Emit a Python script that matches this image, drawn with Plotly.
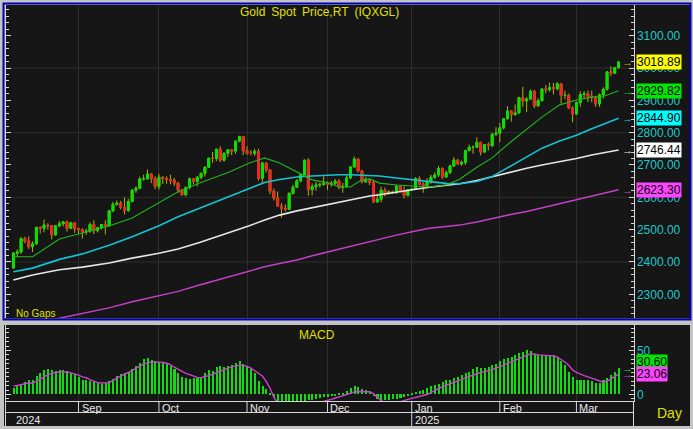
import plotly.graph_objects as go
import pandas as pd

W, H = 693, 429


def px(x):
    return x / W


def py(y):
    return 1 - y / H


# ---------------- data ----------------
dates = pd.bdate_range("2024-08-08", "2025-03-18")  # trading days shown

open_ = [2382, 2427, 2431, 2472, 2465, 2447, 2456, 2507, 2504, 2514,
         2512, 2484, 2512, 2518, 2524, 2504, 2521, 2503, 2500, 2493,
         2495, 2516, 2497, 2506, 2516, 2512, 2558, 2578, 2582, 2569,
         2559, 2587, 2622, 2628, 2657, 2657, 2672, 2658, 2634, 2662,
         2658, 2656, 2653, 2644, 2622, 2608, 2630, 2657, 2649, 2662,
         2674, 2693, 2721, 2720, 2749, 2715, 2736, 2747, 2743, 2774,
         2788, 2744, 2736, 2736, 2742, 2659, 2706, 2685, 2619, 2598,
         2573, 2565, 2563, 2612, 2631, 2651, 2670, 2715, 2624, 2633,
         2638, 2640, 2643, 2640, 2643, 2650, 2631, 2633, 2660, 2694,
         2718, 2681, 2648, 2652, 2646, 2586, 2594, 2622, 2612, 2617,
         2614, 2634, 2621, 2606, 2624, 2625, 2658, 2640, 2636, 2648,
         2662, 2669, 2689, 2663, 2677, 2697, 2715, 2703, 2708, 2745,
         2755, 2755, 2770, 2740, 2763, 2760, 2795, 2798, 2815, 2843,
         2867, 2856, 2861, 2908, 2898, 2904, 2928, 2883, 2899, 2935,
         2933, 2939, 2936, 2951, 2915, 2916, 2876, 2858, 2893, 2918,
         2920, 2911, 2910, 2889, 2917, 2934, 2988, 2984, 3001]
high = [2431, 2439, 2477, 2478, 2479, 2464, 2509, 2510, 2531, 2520,
        2514, 2513, 2527, 2526, 2528, 2524, 2523, 2506, 2504, 2503,
        2523, 2529, 2508, 2518, 2529, 2560, 2586, 2590, 2589, 2600,
        2595, 2625, 2634, 2664, 2670, 2686, 2674, 2665, 2673, 2665,
        2665, 2670, 2660, 2648, 2625, 2634, 2661, 2660, 2666, 2677,
        2696, 2722, 2740, 2749, 2758, 2739, 2749, 2749, 2774, 2790,
        2790, 2758, 2746, 2750, 2750, 2710, 2709, 2686, 2627, 2618,
        2582, 2578, 2616, 2639, 2656, 2675, 2716, 2721, 2643, 2648,
        2645, 2665, 2649, 2651, 2657, 2656, 2645, 2668, 2697, 2726,
        2721, 2685, 2664, 2657, 2651, 2611, 2633, 2630, 2622, 2621,
        2639, 2638, 2634, 2626, 2630, 2662, 2665, 2647, 2659, 2670,
        2677, 2697, 2693, 2683, 2701, 2724, 2718, 2714, 2746, 2763,
        2760, 2786, 2772, 2765, 2770, 2800, 2817, 2830, 2845, 2882,
        2870, 2887, 2911, 2942, 2910, 2934, 2932, 2906, 2938, 2947,
        2955, 2954, 2956, 2952, 2930, 2921, 2882, 2896, 2928, 2929,
        2930, 2930, 2914, 2921, 2940, 2990, 3005, 3002, 3020]
low = [2378, 2415, 2425, 2458, 2440, 2431, 2454, 2488, 2492, 2500,
       2470, 2481, 2507, 2510, 2494, 2502, 2490, 2488, 2472, 2484,
       2490, 2486, 2491, 2500, 2485, 2510, 2554, 2574, 2563, 2547,
       2555, 2584, 2614, 2625, 2652, 2655, 2644, 2625, 2624, 2641,
       2642, 2640, 2635, 2614, 2605, 2603, 2625, 2640, 2634, 2656,
       2664, 2691, 2707, 2712, 2709, 2710, 2725, 2730, 2735, 2770,
       2731, 2732, 2730, 2728, 2652, 2643, 2677, 2610, 2590, 2572,
       2537, 2556, 2562, 2608, 2630, 2646, 2670, 2605, 2606, 2620,
       2630, 2636, 2623, 2633, 2636, 2625, 2614, 2631, 2656, 2692,
       2678, 2643, 2645, 2638, 2582, 2583, 2584, 2603, 2608, 2611,
       2611, 2615, 2597, 2603, 2620, 2623, 2637, 2614, 2629, 2642,
       2657, 2663, 2657, 2660, 2671, 2694, 2700, 2697, 2700, 2742,
       2735, 2752, 2730, 2738, 2745, 2755, 2790, 2771, 2810, 2841,
       2834, 2852, 2860, 2880, 2864, 2902, 2876, 2880, 2897, 2922,
       2927, 2918, 2931, 2890, 2903, 2873, 2832, 2856, 2880, 2905,
       2895, 2894, 2880, 2880, 2905, 2930, 2975, 2982, 2998]
close = [2427, 2431, 2472, 2465, 2447, 2456, 2507, 2504, 2514, 2512,
         2484, 2512, 2518, 2524, 2504, 2521, 2503, 2500, 2493, 2495,
         2516, 2497, 2506, 2516, 2512, 2558, 2578, 2582, 2569, 2559,
         2587, 2622, 2628, 2657, 2657, 2672, 2658, 2634, 2662, 2658,
         2656, 2653, 2644, 2622, 2608, 2630, 2657, 2649, 2662, 2674,
         2693, 2721, 2720, 2749, 2715, 2736, 2747, 2743, 2774, 2788,
         2744, 2736, 2736, 2742, 2659, 2706, 2685, 2619, 2598, 2573,
         2565, 2563, 2612, 2631, 2651, 2670, 2715, 2624, 2633, 2638,
         2640, 2643, 2640, 2643, 2650, 2631, 2633, 2660, 2694, 2718,
         2681, 2648, 2652, 2646, 2586, 2594, 2622, 2612, 2617, 2614,
         2634, 2621, 2606, 2624, 2625, 2658, 2640, 2636, 2648, 2662,
         2669, 2689, 2663, 2677, 2697, 2715, 2703, 2708, 2745, 2755,
         2755, 2770, 2740, 2763, 2760, 2795, 2798, 2815, 2843, 2867,
         2856, 2861, 2908, 2898, 2904, 2928, 2883, 2899, 2935, 2933,
         2939, 2936, 2951, 2915, 2916, 2876, 2858, 2893, 2918, 2920,
         2911, 2910, 2889, 2917, 2934, 2988, 2984, 3001, 3018.89]

# moving averages at these bar positions
ma_pos = [0, 5, 12, 18, 25, 31, 38, 43, 48.6, 56.4, 61.6, 65.6, 69.5, 74, 78,
          82.5, 85, 88, 91, 93, 95.6, 100, 105, 108.6, 113, 116.5, 121, 125,
          129.5, 134, 138, 142.6, 147, 151, 154, 158]
ma_green = [2416, 2416, 2471, 2490, 2511, 2536, 2582, 2617, 2644, 2678, 2706,
            2722, 2706, 2678, 2654, 2644, 2632, 2632, 2654, 2657, 2644, 2638,
            2635, 2632, 2638, 2656, 2693, 2722, 2768, 2811, 2848, 2886, 2901,
            2910, 2912, 2929.82]
ma_cyan = [2370, 2381, 2408, 2425, 2452, 2478, 2512, 2540, 2566, 2602, 2628,
           2646, 2655, 2663, 2666, 2669, 2670, 2670, 2669, 2668, 2666, 2660,
           2654, 2648, 2643, 2642, 2649, 2664, 2694, 2726, 2752, 2774, 2792,
           2812, 2826, 2844.90]
ma_white = [2344, 2360, 2376, 2384, 2397, 2412, 2427, 2440, 2460, 2490, 2512,
            2530, 2545, 2558, 2568, 2580, 2586, 2593, 2600, 2604, 2608, 2617,
            2625, 2631, 2637, 2642, 2652, 2664, 2677, 2690, 2700, 2710, 2720,
            2731, 2738, 2746.44]
ma_magenta = [2196, 2207, 2226, 2240, 2258, 2277, 2295, 2309, 2329, 2354, 2370,
              2385, 2395, 2406, 2419, 2432, 2440, 2449, 2458, 2464, 2471, 2483,
              2496, 2504, 2510, 2514, 2524, 2535, 2546, 2556, 2567, 2581, 2592,
              2602, 2610, 2623.30]

macd = [7.5, 9.5, 12, 14, 16, 17, 21, 24, 28, 29.5,
        28, 26.5, 27.5, 28, 27, 25, 23, 20, 17, 16,
        15, 14, 13, 12.5, 13, 15, 18, 21, 23, 24.5,
        26, 29, 32, 36, 40, 42, 39, 38, 37, 36.5,
        35, 32, 29, 25, 20, 19, 18, 18.5, 19, 20,
        24, 28, 27, 31, 32, 31, 32, 33, 36, 38,
        35, 32, 29, 24, 15, 10, 6, 1, -3, -7,
        -11, -14, -15, -14, -12, -10, -8, -6, -6, -5,
        -4, -3, -2.5, -2, -1, 1, 2, 4, 7, 9.5,
        9, 6, 5, 3.5, -1, -5, -6, -6, -6, -5,
        -5, -4, -3, -2, 1, 3, 4, 5, 7, 10,
        11, 12, 14, 16, 17, 19, 20, 22, 24, 26,
        29, 31, 30, 30, 31, 33, 35, 38, 40, 41,
        43, 45, 47, 48, 51, 49, 46, 45, 45, 45,
        44, 44, 42, 38, 33, 26, 20, 17, 17, 16.5,
        16, 15, 13, 13, 16, 19, 22, 26, 30.60]
signal = [9.5, 10, 11, 12.5, 13, 13, 15, 18, 20, 22.5,
          24, 25, 25.5, 25.5, 25.5, 24.5, 23.5, 22, 20, 19,
          17, 15, 13.5, 13, 13, 13.5, 16, 19, 21, 23,
          25, 27, 30, 32.5, 34.5, 36, 37, 37, 37, 36.5,
          35.5, 34, 31, 28.5, 26, 24, 22.5, 21, 19.5, 19,
          20, 21.5, 23, 24.5, 26.5, 28, 30, 31.5, 32.5, 33,
          33, 32, 30, 27, 24, 21, 15, 7, -3, -10,
          -14, -16, -17, -17, -16, -15, -14, -13, -12, -10,
          -9, -8, -7, -5.5, -4, -3, -1.5, 0, 1.5, 3,
          3.4, 3.5, 3.4, 3.2, 1, -3, -7, -9, -10, -10,
          -9.5, -8.5, -7, -5.5, -4.5, -3.5, -2, -1, 0, 2,
          4.5, 7, 9, 10.5, 12, 13.5, 15.5, 17, 19, 20.5,
          22, 24, 25, 26, 27, 28, 30, 31.5, 33, 35,
          37, 39, 40.5, 42.5, 44.5, 46, 46, 45, 45, 44.5,
          44, 44, 42.5, 40, 37, 33, 28, 25, 23, 21.5,
          20, 18.5, 17, 15.5, 14, 15, 17.5, 20.5, 23.06]

year_labels = ["2024", "2025"]
price_ticks_every = 100
grid_levels = [2400, 2600, 2800, 3000]

# ---------------- derived ----------------
n = len(close)
pos = list(range(n))
month_pos = [i for i in range(1, n) if dates[i].month != dates[i - 1].month]
month_lbl = [dates[i].strftime("%b") for i in month_pos]
year_pos = [i for i in month_pos if dates[i].year != dates[i - 1].year]
body_hi = [max(o, c) for o, c in zip(open_, close)]
body_lo = [min(o, c) for o, c in zip(open_, close)]

FONT = "Liberation Sans, Arial, sans-serif"
BG = "#161616"
GRID = "#2e2e2e"
AXC = "#d8d8d8"
TICKC = "#1ec8cc"
YEL = "#e0e000"
WICK = "#b4b000"
UP = "#00e400"
DN = "#f02424"
C_GREEN = "#22b422"
C_CYAN = "#14c4d4"
C_WHITE = "#e6e6e6"
C_MAG = "#c440c4"

fig = go.Figure()

fig.add_trace(go.Candlestick(
    x=pos, open=open_, high=high, low=low, close=close,
    increasing=dict(line=dict(color=WICK, width=1), fillcolor=WICK),
    decreasing=dict(line=dict(color=WICK, width=1), fillcolor=WICK),
    xaxis="x", yaxis="y", hoverinfo="skip"))
fig.add_trace(go.Candlestick(
    x=pos, open=open_, high=body_hi, low=body_lo, close=close,
    increasing=dict(line=dict(color=UP, width=1), fillcolor=UP),
    decreasing=dict(line=dict(color=DN, width=1), fillcolor=DN),
    xaxis="x", yaxis="y", hoverinfo="skip"))

for vals, col, wd in [(ma_magenta, C_MAG, 1.5), (ma_white, C_WHITE, 1.6),
                      (ma_cyan, C_CYAN, 1.6), (ma_green, C_GREEN, 1.1)]:
    fig.add_trace(go.Scatter(x=ma_pos, y=vals, mode="lines",
                             line=dict(color=col, width=wd),
                             xaxis="x", yaxis="y", hoverinfo="skip"))

fig.add_trace(go.Bar(x=pos, y=macd, width=0.4, marker=dict(color="#10dc10", line=dict(width=0)),
                     xaxis="x2", yaxis="y2", hoverinfo="skip"))
fig.add_trace(go.Scatter(x=pos, y=signal, mode="lines", line=dict(color="#d040d0", width=1.4),
                         xaxis="x2", yaxis="y2", hoverinfo="skip"))

# ---------------- axes ----------------
x_lo = -2.06
x_hi = 161.9
xdom = [px(5.5), px(633.5)]

common_x = dict(domain=xdom, range=[x_lo, x_hi], tickmode="array", tickvals=month_pos,
                showticklabels=False, ticks="", showgrid=True, gridcolor=GRID, gridwidth=1,
                zeroline=False, automargin=False, fixedrange=True)

fig.update_layout(
    width=W, height=H,
    template="none",
    margin=dict(l=0, r=0, t=0, b=0),
    paper_bgcolor="#c4c4c4",
    plot_bgcolor=BG,
    showlegend=False,
    boxmode="overlay",
    bargap=0,
    font=dict(family=FONT, size=12, color=YEL),
    xaxis=dict(**common_x, anchor="y", showline=False, rangeslider=dict(visible=False)),
    xaxis2=dict(**common_x, anchor="y2", matches="x", showline=True, linecolor=AXC, linewidth=1,
                rangeslider=dict(visible=False)),
    yaxis=dict(domain=[py(318), py(5)], range=[2226.7, 3194.9], side="right", anchor="x",
               tickmode="linear", tick0=0, dtick=price_ticks_every, tickformat=".2f",
               ticks="inside", ticklen=5, tickcolor=AXC, tickwidth=1,
               minor=dict(dtick=20, ticks="inside", ticklen=3, tickcolor=AXC, showgrid=False),
               showgrid=False, zeroline=False, showline=True, linecolor=AXC, linewidth=1,
               mirror="ticks", tickfont=dict(family=FONT, size=12, color=TICKC),
               automargin=False, fixedrange=True),
    yaxis2=dict(domain=[py(401), py(325)], range=[-7.4, 79], side="right", anchor="x2",
                tickmode="linear", tick0=0, dtick=50,
                ticks="inside", ticklen=5, tickcolor=AXC, tickwidth=1,
                minor=dict(dtick=5, ticks="inside", ticklen=3, tickcolor=AXC, showgrid=False),
                showgrid=False, zeroline=False, showline=True, linecolor=AXC, linewidth=1,
                mirror="ticks", tickfont=dict(family=FONT, size=12, color=TICKC),
                automargin=False, fixedrange=True),
)

# ---------------- frame shapes ----------------
shapes = []
shapes.append(dict(type="rect", xref="paper", yref="paper", x0=px(5), x1=px(690),
                   y0=py(318.5), y1=py(5), fillcolor=BG, line=dict(width=0), layer="below"))
shapes.append(dict(type="rect", xref="paper", yref="paper", x0=px(4), x1=px(690),
                   y0=py(426), y1=py(325), fillcolor=BG, line=dict(width=0), layer="below"))
shapes.append(dict(type="rect", xref="paper", yref="paper", x0=px(3.5), x1=px(690.5),
                   y0=py(319.5), y1=py(3.5), line=dict(color="#0000b4", width=2),
                   fillcolor="rgba(0,0,0,0)", layer="above"))
for g in grid_levels:
    shapes.append(dict(type="line", xref="x domain", yref="y", x0=0, x1=1, y0=g, y1=g,
                       line=dict(color=GRID, width=1), layer="below"))
# date header rows
shapes.append(dict(type="line", xref="paper", yref="paper", x0=px(5.5), x1=px(633.5),
                   y0=py(412.5), y1=py(412.5), line=dict(color=AXC, width=1)))
shapes.append(dict(type="line", xref="paper", yref="paper", x0=px(5.5), x1=px(5.5),
                   y0=py(426), y1=py(401), line=dict(color=AXC, width=1)))
shapes.append(dict(type="line", xref="paper", yref="paper", x0=px(633.5), x1=px(633.5),
                   y0=py(426), y1=py(401), line=dict(color=AXC, width=1)))
for i in month_pos:
    shapes.append(dict(type="line", xref="x2", yref="paper", x0=i, x1=i,
                       y0=py(412.5), y1=py(401.5), line=dict(color=AXC, width=1)))
for i in year_pos:
    shapes.append(dict(type="line", xref="x2", yref="paper", x0=i, x1=i,
                       y0=py(426), y1=py(412.5), line=dict(color=AXC, width=1)))
fig.update_layout(shapes=shapes)

# ---------------- text ----------------
ann = []
ann.append(dict(text="Gold\u2002Spot\u2002Price,RT\u2002(IQXGL)", xref="paper", yref="paper",
                x=px(319), y=py(12), xanchor="center", yanchor="middle", showarrow=False,
                font=dict(family=FONT, size=12, color=YEL)))
ann.append(dict(text="No Gaps", xref="paper", yref="paper", x=px(14), y=py(313),
                xanchor="left", yanchor="middle", showarrow=False,
                font=dict(family=FONT, size=10, color=YEL)))
ann.append(dict(text="MACD", xref="paper", yref="paper", x=px(317), y=py(335),
                xanchor="center", yanchor="middle", showarrow=False,
                font=dict(family=FONT, size=12, color=YEL)))
ann.append(dict(text="Day", xref="paper", yref="paper", x=px(669), y=py(413),
                xanchor="center", yanchor="middle", showarrow=False,
                font=dict(family=FONT, size=14, color=YEL)))
for i, lbl in zip(month_pos, month_lbl):
    ann.append(dict(text=lbl, xref="x2", yref="paper", x=i, xshift=1, y=py(407.5),
                    xanchor="left", yanchor="middle", showarrow=False,
                    font=dict(family=FONT, size=11, color="#e8e8e8")))
ann.append(dict(text=year_labels[0], xref="paper", yref="paper", x=px(14), y=py(420),
                xanchor="left", yanchor="middle", showarrow=False,
                font=dict(family=FONT, size=11, color="#e8e8e8")))
for i, lbl in zip(year_pos, year_labels[1:]):
    ann.append(dict(text=lbl, xref="x2", yref="paper", x=i, xshift=1, y=py(420),
                    xanchor="left", yanchor="middle", showarrow=False,
                    font=dict(family=FONT, size=11, color="#e8e8e8")))

price_tags = [(close[-1], "#ffff00", WICK), (ma_green[-1], "#00e600", C_GREEN),
              (ma_cyan[-1], "#00ffff", C_CYAN), (ma_white[-1], "#ffffff", C_WHITE),
              (ma_magenta[-1], "#ff44ff", C_MAG)]
for v, bg, ac in price_tags:
    ann.append(dict(text="→", xref="paper", yref="y", x=px(627), y=v, xanchor="center",
                    yanchor="middle", showarrow=False, font=dict(family=FONT, size=11, color=ac)))
    ann.append(dict(text=f"{v:.2f}", xref="paper", yref="y", x=px(636), y=v, xanchor="left",
                    yanchor="middle", showarrow=False, bgcolor=bg, borderpad=0,
                    font=dict(family=FONT, size=12, color="#000000")))

macd_tags = [(macd[-1], "#00e600", "#10dc10", -6), (signal[-1], "#ff44ff", "#d040d0", 0)]
for v, bg, ac, shift in macd_tags:
    ann.append(dict(text="→", xref="paper", yref="y2", x=px(627), y=v, xanchor="center",
                    yanchor="middle", showarrow=False, font=dict(family=FONT, size=11, color=ac)))
    ann.append(dict(text=f"{v:.2f}", xref="paper", yref="y2", x=px(636), y=v, yshift=-shift,
                    xanchor="left", yanchor="middle", showarrow=False, bgcolor=bg, borderpad=0,
                    font=dict(family=FONT, size=12, color="#000000")))
fig.update_layout(annotations=ann)

fig.write_html("out.html", config={"displayModeBar": False},
               post_script="document.body.style.margin='0px';document.body.style.overflow='hidden';")
